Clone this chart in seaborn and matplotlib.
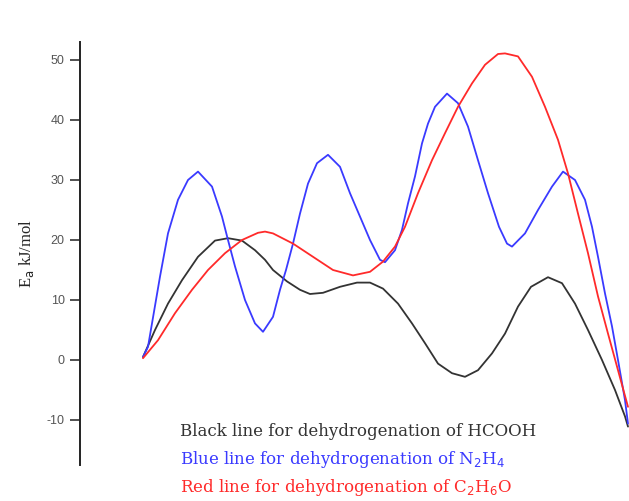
import pandas as pd
import matplotlib.pyplot as plt
import seaborn as sns

sns.set_style('white')
plt.rcParams['axes.unicode_minus'] = False

# reaction coordinate (arbitrary units) and energies
black_x = [0, 12, 25, 39, 55, 72, 85, 99, 112, 117, 122, 130, 144, 157, 167, 180,
           197, 214, 227, 240, 255, 269, 282, 295, 309, 322, 335, 349, 362,
           375, 388, 405, 419, 432, 445, 459, 472, 482, 485]
black_e = [0.5, 5, 9.4, 13.3, 17.2, 19.9, 20.3, 19.9, 18.3, 17.5, 16.7, 15, 13.1,
           11.7, 11, 11.2, 12.2, 12.9, 12.9, 11.9, 9.4, 6.1, 2.8, -0.6, -2.2,
           -2.8, -1.7, 1.1, 4.4, 8.9, 12.2, 13.8, 12.8, 9.4, 5, 0, -5, -9.4, -11.1]

blue_x = [0, 5, 17, 25, 35, 45, 55, 69, 79, 85, 92, 102, 112, 120, 130, 137, 143,
          150, 157, 165, 174, 185, 197, 207, 217, 227, 237, 242, 252, 259, 265,
          272, 279, 285, 292, 304, 315, 325, 335, 345, 356, 364, 369, 382, 395,
          409, 420, 432, 442, 449, 455, 462, 469, 475, 482, 485]
blue_e = [0.5, 2.2, 13.9, 21.1, 26.7, 30, 31.4, 28.9, 23.9, 20, 15.6, 10, 6.1, 4.7,
          7.2, 11.7, 15, 19.4, 24.4, 29.4, 32.8, 34.2, 32.2, 27.8, 23.9, 20, 16.7,
          16.3, 18.3, 21.7, 26.1, 30.6, 36.1, 39.4, 42.2, 44.4, 42.8, 38.9, 33.3,
          27.8, 22.2, 19.4, 18.9, 21.1, 25, 28.9, 31.4, 30, 26.7, 22.2, 17.2, 11.1,
          5.6, 0, -6.7, -10.6]

red_x = [0, 15, 32, 49, 65, 82, 99, 115, 122, 130, 150, 170, 190, 210, 227, 240,
         252, 262, 275, 289, 302, 315, 329, 342, 355, 362, 375, 389, 402, 415,
         425, 435, 445, 455, 465, 475, 485]
red_e = [0.3, 3.3, 7.8, 11.7, 15, 17.8, 20, 21.2, 21.4, 21.1, 19.4, 17.2, 15, 14.1,
         14.7, 16.4, 18.9, 22.2, 27.8, 33.3, 37.8, 42.2, 46.1, 49.2, 51, 51.1, 50.6,
         47.2, 42.2, 36.7, 31.1, 24.4, 17.8, 10.6, 4.4, -1.7, -7.8]

series = ['HCOOH', 'N2H4', 'C2H6O']
colors = {'HCOOH': '#333333', 'N2H4': '#3a3aff', 'C2H6O': '#ff2a2a'}
legend_lines = ['Black line for dehydrogenation of HCOOH',
                'Blue line for dehydrogenation of N$_2$H$_4$',
                'Red line for dehydrogenation of C$_2$H$_6$O']

df = pd.concat([
    pd.DataFrame({'x': black_x, 'E': black_e, 'series': 'HCOOH'}),
    pd.DataFrame({'x': blue_x, 'E': blue_e, 'series': 'N2H4'}),
    pd.DataFrame({'x': red_x, 'E': red_e, 'series': 'C2H6O'}),
])

fig = plt.figure(figsize=(6.29, 5.01), dpi=100)
ax = fig.add_axes([80 / 629, 1 - 465 / 501, 549 / 629, 423 / 501])
sns.lineplot(data=df, x='x', y='E', hue='series', palette=colors,
             estimator=None, sort=False, linewidth=1.3, legend=False, ax=ax)

ax.set_xlim(-63, 486)
ax.set_ylim(-17.5, 53)
ax.set_yticks([-10, 0, 10, 20, 30, 40, 50])
ax.set_xticks([])
ax.set_xlabel('')
ax.set_ylabel('E$_\\mathrm{a}$ kJ/mol', family='Liberation Serif', fontsize=12, labelpad=8)
for s in ['top', 'right', 'bottom']:
    ax.spines[s].set_visible(False)
ax.spines['left'].set_color('#222222')
ax.spines['left'].set_linewidth(1.4)
ax.tick_params(axis='y', direction='out', length=7, width=1.2, color='#333333',
               labelsize=9, labelcolor='#555555', left=True, pad=4)
for lab in ax.get_yticklabels():
    lab.set_family('Liberation Sans')

for i, (name, txt) in enumerate(zip(series, legend_lines)):
    fig.text(180 / 629, 1 - (432 + 28 * i) / 501, txt, color=colors[name],
             family='DejaVu Serif', fontsize=12, va='center', ha='left')

plt.savefig('out.png', dpi=100)
